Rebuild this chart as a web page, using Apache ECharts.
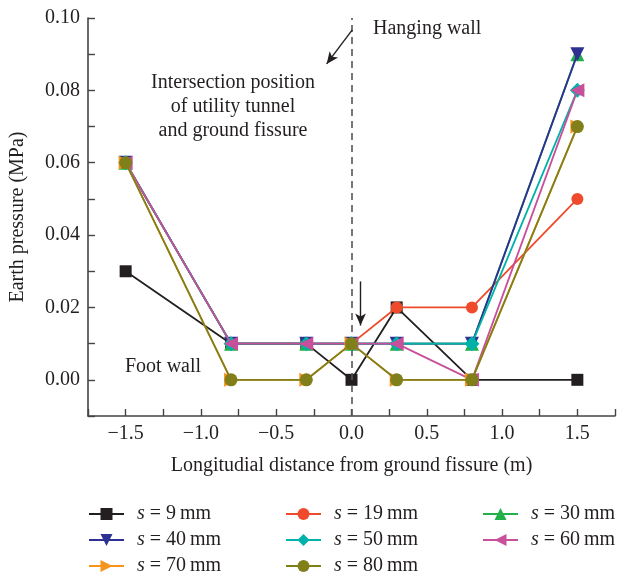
<!DOCTYPE html>
<html><head><meta charset="utf-8">
<script src="https://cdn.jsdelivr.net/npm/echarts@6/dist/echarts.min.js"></script>
<style>html,body{margin:0;padding:0;background:#fff}#c{width:618px;height:579px}</style>
</head><body><div id="c"></div>
<script>
const xValues = [-1.5, -0.8, -0.3, 0, 0.3, 0.8, 1.5];
const seriesNames = ['s9','s19','s30','s40','s50','s60','s70','s80'];
const seriesLabels = ['9','19','30','40','50','60','70','80'];
const s9  = [0.03, 0.01, 0.01, 0.00, 0.02, 0.00, 0.00];
const s19 = [0.06, 0.01, 0.01, 0.01, 0.02, 0.02, 0.05];
const s30 = [0.06, 0.01, 0.01, 0.01, 0.01, 0.01, 0.09];
const s40 = [0.06, 0.01, 0.01, 0.01, 0.01, 0.01, 0.09];
const s50 = [0.06, 0.01, 0.01, 0.01, 0.01, 0.01, 0.08];
const s60 = [0.06, 0.01, 0.01, 0.01, 0.01, 0.00, 0.08];
const s70 = [0.06, 0.00, 0.00, 0.01, 0.00, 0.00, 0.07];
const s80 = [0.06, 0.00, 0.00, 0.01, 0.00, 0.00, 0.07];
const allValues = [s9, s19, s30, s40, s50, s60, s70, s80];

const colors = ['#231f20','#ef4a2b','#22b04b','#2e3192','#00b2a9','#c8509b','#f7941d','#807f1a'];
const symbols = ['rect','circle','triangle','triangle','diamond','triangle','triangle','circle'];
const rotates = [0,0,0,180,0,90,-90,0];
const sizes = [12,12,14,14,15,14,14,13];
const FONT = '"Liberation Serif", "DejaVu Serif", serif';
const FS = 20;
const TXT = '#231f20';

const chart = echarts.init(document.getElementById('c'), null, {renderer:'canvas'});

const series = allValues.map((vals, i) => ({
  name: seriesNames[i],
  type: 'line',
  data: xValues.map((x, j) => [x, vals[j]]),
  symbol: symbols[i],
  symbolRotate: rotates[i],
  symbolSize: sizes[i],
  showAllSymbol: true,
  lineStyle: {color: colors[i], width: 1.8},
  itemStyle: {color: colors[i], borderWidth: 0},
  z: 2 + i,
  animation: false
}));

series.push({
  name: 'annot', type: 'line', data: [], animation: false, z: 1,
  markLine: {
    silent: true, animation: false,
    symbol: ['none','none'],
    label: {show: false},
    lineStyle: {color: '#555', type: [7, 5], width: 1.6},
    data: [{xAxis: 0}]
  }
});
series.push({
  name: 'arrows', type: 'line', data: [], animation: false, z: 1,
  markLine: {
    silent: true, animation: false,
    symbol: ['none','arrow'], symbolSize: [8, 12],
    label: {show: false},
    lineStyle: {color: '#231f20', type: 'solid', width: 1.4},
    data: [
      [{coord: [0.005, 0.0967]}, {coord: [-0.165, 0.0873]}],
      [{coord: [0.06, 0.0272]}, {coord: [0.06, 0.0150]}]
    ]
  }
});

function legendFor(idxs, left) {
  return {
    left: left, top: 504, height: 75, padding: 0, orient: 'vertical',
    itemWidth: 35, itemHeight: 15, itemGap: 6,
    data: idxs.map(i => seriesNames[i]),
    formatter: n => '{i|s} = ' + seriesLabels[seriesNames.indexOf(n)] + '\u2009mm',
    textStyle: {
      fontFamily: FONT, fontSize: FS, color: TXT, padding: [0,0,0,8],
      rich: {i: {fontFamily: FONT, fontSize: FS, fontStyle: 'italic', color: TXT}}
    }
  };
}

const option = {
  backgroundColor: '#fff',
  animation: false,
  grid: {left: 88, right: 1, top: 18, bottom: 163},
  xAxis: {
    type: 'value', min: -1.75, max: 1.75, interval: 0.25,
    name: 'Longitudial distance from ground fissure (m)',
    nameLocation: 'middle', nameGap: 40,
    nameTextStyle: {fontFamily: FONT, fontSize: FS, color: TXT},
    axisLine: {onZero: false, lineStyle: {color: '#444', width: 1.6}},
    axisTick: {inside: true, length: 7, lineStyle: {color: '#444', width: 1.4}},
    splitLine: {show: false},
    axisLabel: {
      fontFamily: FONT, fontSize: FS, color: TXT, margin: 8,
      formatter: v => {
        const r = v * 2;
        if (Math.abs(r - Math.round(r)) > 1e-6) return '';
        return v.toFixed(1).replace('-', '\u2212');
      }
    }
  },
  yAxis: {
    type: 'value', min: -0.01, max: 0.10, interval: 0.01,
    name: 'Earth pressure (MPa)',
    nameLocation: 'middle', nameGap: 60,
    nameTextStyle: {fontFamily: FONT, fontSize: FS, color: TXT},
    axisLine: {show: true, onZero: false, lineStyle: {color: '#444', width: 1.6}},
    axisTick: {inside: true, length: 7, lineStyle: {color: '#444', width: 1.4}},
    splitLine: {show: false},
    axisLabel: {
      fontFamily: FONT, fontSize: FS, color: TXT, margin: 8,
      formatter: v => {
        const k = Math.round(v * 100);
        if (k < 0 || k % 2 !== 0) return '';
        return (k / 100).toFixed(2);
      }
    }
  },
  legend: [legendFor([0,3,6], 88), legendFor([1,4,7], 285), legendFor([2,5], 482)],
  graphic: [
    {type: 'text', x: 373, y: 19, style: {text: 'Hanging wall', font: FS + 'px ' + FONT, fill: TXT}},
    {type: 'text', x: 233, y: 71, style: {text: 'Intersection position\nof utility tunnel\nand ground fissure', font: FS + 'px ' + FONT, fill: TXT, align: 'center', lineHeight: 24}},
    {type: 'text', x: 125, y: 357, style: {text: 'Foot wall', font: FS + 'px ' + FONT, fill: TXT}}
  ],
  series: series
};
chart.setOption(option);
</script></body></html>
